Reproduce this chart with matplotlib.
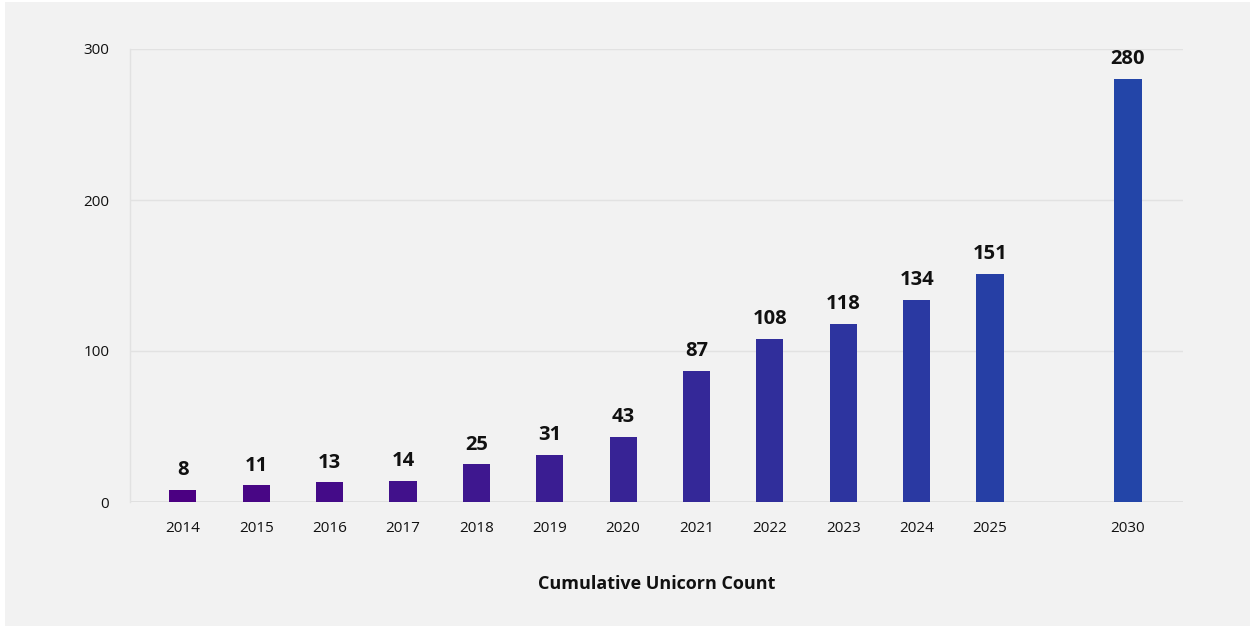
import numpy as np
import matplotlib.pyplot as plt
import matplotlib.patches as patches
from matplotlib.colors import to_rgb

plt.rcParams['font.family'] = ['Open Sans', 'DejaVu Sans']

years = ['2014', '2015', '2016', '2017', '2018', '2019', '2020',
         '2021', '2022', '2023', '2024', '2025', '2030']
unicorns = [8, 11, 13, 14, 25, 31, 43, 87, 108, 118, 134, 151, 280]

# 2030 sits apart from the yearly run
xpos = np.append(np.arange(len(years) - 1), 12.88)

# purple -> blue shading across the bars
c0 = np.array(to_rgb('#4b0082'))
c1 = np.array(to_rgb('#2345a8'))
colors = [tuple(c0 + (c1 - c0) * t) for t in np.linspace(0, 1, len(years))]

fig = plt.figure(figsize=(12.53, 6.27), dpi=100)
fig.patch.set_facecolor('white')
fig.patches.append(patches.Rectangle((5 / 1253, 1 / 627), 1245 / 1253, 624 / 627,
                                     transform=fig.transFigure, facecolor='#f2f2f2',
                                     edgecolor='none', zorder=-10))

ax = fig.add_axes([130 / 1253, 1 - 502 / 627, 1053 / 1253, 453 / 627])
ax.set_facecolor('none')

ax.bar(xpos, unicorns, width=0.37, color=colors, zorder=3)
for x, v in zip(xpos, unicorns):
    ax.annotate(str(v), (x, v), xytext=(0, 7), textcoords='offset points',
                ha='center', va='bottom', fontsize=14.5, fontweight='bold',
                color='#111111')

ax.set_xlim(-0.72, 13.63)
ax.set_ylim(0, 300)
ax.set_yticks([0, 100, 200, 300])
ax.set_xticks(xpos)
ax.set_xticklabels(years)

for y in [100, 200, 300]:
    ax.axhline(y, color='#e2e2e2', lw=1, zorder=1)
ax.axhline(0, color='#dedede', lw=2, zorder=1)

for s in ['top', 'right', 'bottom']:
    ax.spines[s].set_visible(False)
ax.spines['left'].set_color('#e2e2e2')
ax.spines['left'].set_linewidth(1)

ax.tick_params(axis='x', length=0, pad=14, labelsize=11, colors='#111111')
ax.tick_params(axis='y', length=0, pad=15, labelsize=11, colors='#111111')

ax.set_xlabel('Cumulative Unicorn Count', fontsize=13, fontweight='bold',
              color='#111111', labelpad=28)

fig.savefig('out.png', dpi=100)
